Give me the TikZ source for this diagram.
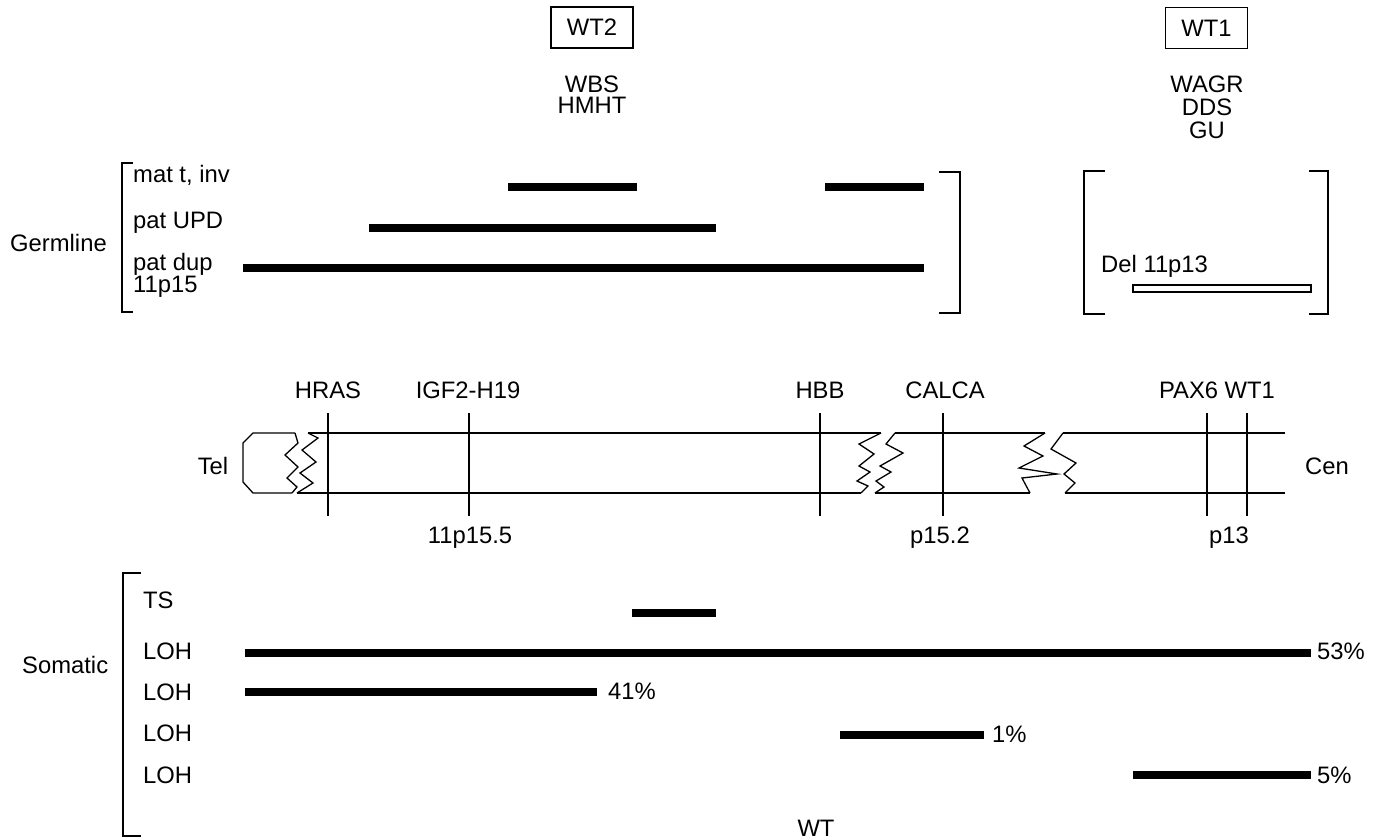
\documentclass[tikz,border=0pt]{standalone}
\usepackage{fontspec}
\setmainfont{Liberation Sans}
\begin{document}
\begin{tikzpicture}[x=1pt,y=-1pt,
  lbl/.style={font=\fontsize{23.8}{25}\selectfont, inner sep=0pt},
  thin/.style={line width=1.3pt, line join=miter},
  bar/.style={line width=8pt},
  marker/.style={line width=2.4pt},
  gbox/.style={lbl, draw, line width=1.3pt, minimum width=82pt, minimum height=41pt},
  openbar/.style={draw, line width=1.3pt, fill=white}]
\useasboundingbox (0,0) rectangle (1381,839);

% ---------- top boxes and syndromes
\node[gbox] (wt2) at (592,27.5) {WT2};
\node[lbl, anchor=base] (wbs) at (592,92) {WBS};
\node[lbl, anchor=base] (hmht) at (592,113) {HMHT};
\node[gbox] (wt1) at (1206.5,28) {WT1};
\node[lbl, anchor=base] (wagr) at (1207,92) {WAGR};
\node[lbl, anchor=base] (dds) at (1207,115) {DDS};
\node[lbl, anchor=base] (gu) at (1207,138) {GU};

% ---------- germline
\node[lbl, anchor=base west] (germ) at (10,251) {Germline};
\draw[thin] (133,163) -- (122,163) -- (122,312) -- (133,312);
\node[lbl, anchor=base west] (matt) at (133,182) {mat t, inv};
\node[lbl, anchor=base west] (patupd) at (133,228) {pat UPD};
\node[lbl, anchor=base west] (patdup) at (133,270) {pat dup};
\node[lbl, anchor=base west] (p15) at (133,292) {11p15};
\draw[bar] (508,187) -- (637,187);
\draw[bar] (825,187) -- (924,187);
\draw[bar] (369,228) -- (716,228);
\draw[bar] (243,268) -- (924,268);
\draw[thin] (939,172) -- (960,172) -- (960,313) -- (939,313);

\draw[thin] (1105,171) -- (1084,171) -- (1084,314) -- (1105,314);
\draw[thin] (1309,171) -- (1328,171) -- (1328,314) -- (1309,314);
\node[lbl, anchor=base west] (del) at (1101,272) {Del 11p13};
\draw[openbar] (1133,285) rectangle (1311,292);

% ---------- chromosome
\node[lbl, anchor=base] (tel) at (213,474) {Tel};
\node[lbl, anchor=base] (cen) at (1327,474) {Cen};
\draw[thin] (295,433) -- (253,433) -- (243,443) -- (243,482) -- (253,493) -- (292,493);
\draw[thin] (295,433) -- (298,443) -- (285,455) -- (298,467) -- (287,478) -- (297,487) -- (292,493);
\draw[thin] (308,433) -- (318,438) -- (302,450) -- (316,462) -- (300,473) -- (313,483) -- (297,493);
\draw[thin] (308,433) -- (881,433);
\draw[thin] (297,493) -- (861,493);
\draw[thin] (881,433) -- (859,444) -- (874,454) -- (859,466) -- (870,472) -- (857,481) -- (868,486) -- (861,493);
\draw[thin] (895,433) -- (886,444) -- (903,453) -- (880,466) -- (891,472) -- (876,481) -- (884,487) -- (875,493);
\draw[thin] (895,433) -- (1045,433);
\draw[thin] (875,493) -- (1030,493);
\draw[thin] (1045,433) -- (1024,446) -- (1043,456) -- (1019,468) -- (1057,474) -- (1022,478) -- (1030,493);
\draw[thin] (1063,433) -- (1051,449) -- (1076,463) -- (1064,474) -- (1075,483) -- (1065,493);
\draw[thin] (1063,433) -- (1285,433);
\draw[thin] (1065,493) -- (1285,493);

\foreach \n/\x in {hras/328, igf/469, hbb/820, calca/943, pax/1207, wtone/1247}{
  \coordinate (\n t) at (\x,413);
  \coordinate (\n b) at (\x,516);
  \draw[marker] (\n t) -- (\n b);
}
\node[lbl, anchor=base] (lhras) at (328,398) {HRAS};
\node[lbl, anchor=base] (ligf) at (468,398) {IGF2-H19};
\node[lbl, anchor=base] (lhbb) at (820,398) {HBB};
\node[lbl, anchor=base] (lcalca) at (945,398) {CALCA};
\node[lbl, anchor=base] (lpax) at (1217,398) {PAX6 WT1};
\node[lbl, anchor=base] (b1) at (470,543) {11p15.5};
\node[lbl, anchor=base] (b2) at (940,543) {p15.2};
\node[lbl, anchor=base] (b3) at (1229,543) {p13};

% ---------- somatic
\node[lbl, anchor=base west] (som) at (22,673) {Somatic};
\draw[thin] (141,573) -- (123,573) -- (123,836) -- (141,836);
\node[lbl, anchor=base west] (ts) at (143,608) {TS};
\node[lbl, anchor=base west] (loh1) at (143,659) {LOH};
\node[lbl, anchor=base west] (loh2) at (143,700) {LOH};
\node[lbl, anchor=base west] (loh3) at (143,741) {LOH};
\node[lbl, anchor=base west] (loh4) at (143,783) {LOH};
\draw[bar] (632,613) -- (716,613);
\draw[bar] (245,653) -- (1311,653);
\draw[bar] (245,692) -- (597,692);
\draw[bar] (840,735) -- (984,735);
\draw[bar] (1133,775) -- (1311,775);
\node[lbl, anchor=base west] (p53) at (1317,659) {53\%};
\node[lbl, anchor=base west] (p41) at (608,699) {41\%};
\node[lbl, anchor=base west] (p1) at (992,742) {1\%};
\node[lbl, anchor=base west] (p5) at (1317,783) {5\%};
\node[lbl, anchor=base] (wt) at (816,836) {WT};
\end{tikzpicture}
\end{document}
